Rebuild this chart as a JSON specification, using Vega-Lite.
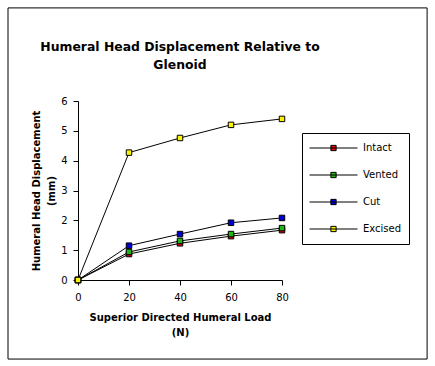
{
  "$schema": "https://vega.github.io/schema/vega-lite/v6.json",
  "autosize": {"type": "none"},
  "width": 204,
  "height": 179,
  "padding": {"left": 78, "top": 101, "right": 153, "bottom": 86},
  "background": "white",
  "title": {
    "text": ["Humeral Head Displacement Relative to", "Glenoid"],
    "anchor": "middle",
    "frame": "group",
    "font": "DejaVu Sans",
    "fontSize": 12.4,
    "fontWeight": "bold",
    "lineHeight": 18,
    "offset": -64,
    "color": "black"
  },
  "config": {
    "view": {"stroke": null},
    "axis": {
      "grid": false,
      "domainColor": "black",
      "tickColor": "black",
      "labelColor": "black",
      "titleColor": "black",
      "labelFont": "DejaVu Sans",
      "labelFontSize": 10,
      "titleFont": "DejaVu Sans",
      "titleFontSize": 10,
      "titleFontWeight": "bold",
      "titleLineHeight": 15,
      "tickSize": 5,
      "labelOverlap": false
    },
    "axisY": {"labelOverlap": false, "tickCount": 7}
  },
  "datasets": {
    "series": [
      {"load": 0, "disp": 0, "group": "Intact"},
      {"load": 20, "disp": 0.87, "group": "Intact"},
      {"load": 40, "disp": 1.23, "group": "Intact"},
      {"load": 60, "disp": 1.47, "group": "Intact"},
      {"load": 80, "disp": 1.67, "group": "Intact"},
      {"load": 0, "disp": 0, "group": "Vented"},
      {"load": 20, "disp": 0.94, "group": "Vented"},
      {"load": 40, "disp": 1.31, "group": "Vented"},
      {"load": 60, "disp": 1.54, "group": "Vented"},
      {"load": 80, "disp": 1.74, "group": "Vented"},
      {"load": 0, "disp": 0, "group": "Cut"},
      {"load": 20, "disp": 1.15, "group": "Cut"},
      {"load": 40, "disp": 1.54, "group": "Cut"},
      {"load": 60, "disp": 1.92, "group": "Cut"},
      {"load": 80, "disp": 2.08, "group": "Cut"},
      {"load": 0, "disp": 0, "group": "Excised"},
      {"load": 20, "disp": 4.27, "group": "Excised"},
      {"load": 40, "disp": 4.76, "group": "Excised"},
      {"load": 60, "disp": 5.2, "group": "Excised"},
      {"load": 80, "disp": 5.4, "group": "Excised"}
    ],
    "frame": [
      {"x0": -27.45, "x1": 136.9, "y0": -2.65, "y1": 9.12}
    ]
  },
  "layer": [
    {
      "data": {"name": "series"},
      "mark": {"type": "line", "color": "black", "strokeWidth": 1},
      "encoding": {
        "x": {"field": "load", "type": "quantitative", "scale": {"domain": [0, 80], "nice": false, "zero": false},
              "axis": {"values": [0, 20, 40, 60, 80], "labelPadding": 7, "labelFlush": false, "titlePadding": 10,
                       "title": ["Superior Directed Humeral Load", "(N)"]}},
        "y": {"field": "disp", "type": "quantitative", "scale": {"domain": [0, 6], "nice": false, "zero": false},
              "axis": {"tickCount": 7, "labelPadding": 6, "labelFlush": false, "titlePadding": 4, "labelOverlap": false,
                       "title": ["Humeral Head Displacement", "(mm)"]}},
        "detail": {"field": "group", "type": "nominal"}
      }
    },
    {
      "data": {"name": "series"},
      "mark": {"type": "point", "shape": "square", "filled": true, "size": 30, "stroke": "black", "strokeWidth": 1, "opacity": 1},
      "encoding": {
        "x": {"field": "load", "type": "quantitative"},
        "y": {"field": "disp", "type": "quantitative"},
        "fill": {
          "field": "group", "type": "nominal",
          "scale": {"domain": ["Intact", "Vented", "Cut", "Excised"], "range": ["#DD0907", "#1FB714", "#0000D3", "#FBF305"]},
          "legend": {
            "title": null,
            "orient": "none",
            "legendX": 224,
            "legendY": 32,
            "strokeColor": "black",
            "fillColor": "white",
            "padding": 7,
            "symbolType": "M-1,0H1M-0.11,-0.11H0.11V0.11H-0.11Z",
            "symbolSize": 2304,
            "symbolStrokeColor": "black",
            "symbolStrokeWidth": 1,
            "symbolOpacity": 1,
            "clipHeight": 16,
            "rowPadding": 11,
            "labelOffset": 5,
            "labelFont": "DejaVu Sans",
            "labelFontSize": 10,
            "labelColor": "black"
          }
        }
      }
    },
    {
      "data": {"name": "frame"},
      "mark": {"type": "rect", "fill": null, "stroke": "black", "strokeWidth": 1, "clip": false},
      "encoding": {
        "x": {"field": "x0", "type": "quantitative"},
        "x2": {"field": "x1"},
        "y": {"field": "y0", "type": "quantitative"},
        "y2": {"field": "y1"}
      }
    }
  ]
}
